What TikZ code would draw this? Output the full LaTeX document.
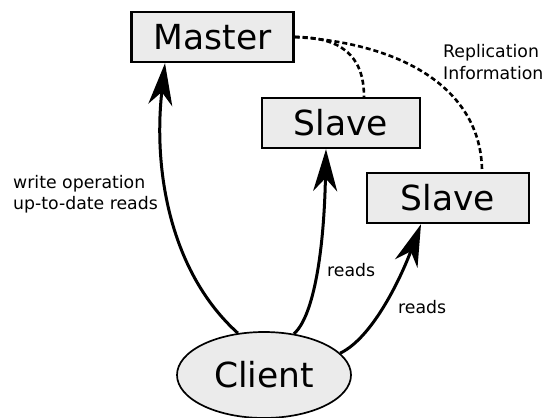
\documentclass[tikz,border=0pt]{standalone}
\usepackage{fontspec}
\setmainfont{DejaVu Sans}
\usetikzlibrary{shapes.geometric,arrows.meta}

\definecolor{boxfill}{HTML}{EBEBEB}

\tikzset{
  server/.style={draw=black, line width=2.4pt, fill=boxfill, rectangle,
    minimum height=50pt, inner sep=0pt, font=\fontsize{34.5}{40}\selectfont},
  clientnode/.style={draw=black, line width=1.7pt, fill=boxfill, ellipse,
    minimum width=174pt, minimum height=86pt, inner sep=0pt,
    font=\fontsize{34.5}{40}\selectfont},
  request/.style={line width=3pt, -{Stealth[length=42pt, width=24pt, inset=13pt]}},
  replication/.style={line width=2.6pt, dash pattern=on 5pt off 3pt},
  note/.style={inner sep=0pt, anchor=west, align=left,
    font=\fontsize{17.3}{21.5}\selectfont}
}

\begin{document}
\begin{tikzpicture}[x=1pt, y=-1pt]
  \useasboundingbox (0,0) rectangle (545,417);

  % servers and client
  \node[server, minimum width=162pt] (master) at (212.5,37) {Master};
  \node[server, minimum width=158pt] (slaveA) at (341,123) {Slave};
  \node[server, minimum width=162pt] (slaveB) at (448,198) {Slave};
  \node[clientnode] (client) at (264,375) {Client};

  % replication links
  \draw[replication] (master.east) .. controls (340,37) and ([xshift=23pt]slaveA.north |- 0,55) .. ([xshift=23pt]slaveA.north);
  \draw[replication] (master.east) .. controls (412,44) and ([xshift=34pt]slaveB.north |- 0,95) .. ([xshift=34pt]slaveB.north);

  % client requests
  \draw[request] (client.122) .. controls (170,272) and (153,170) .. ([xshift=-47.5pt]master.south);
  \draw[request] (client.54) .. controls (314,316) and (324,250) .. ([xshift=-15pt]slaveA.south);
  \draw[request] (client.16) .. controls (372,338) and (400,280) .. ([xshift=-27pt]slaveB.south);

  % labels
  \node[note] (lblrepl) at (443,62) {Replication\\Information};
  \node[note] (lblwrite) at (13,194) {write operation\\up-to-date reads};
  \node[note] (lblreadA) at (327,270) {reads};
  \node[note] (lblreadB) at (398,307) {reads};
\end{tikzpicture}
\end{document}
